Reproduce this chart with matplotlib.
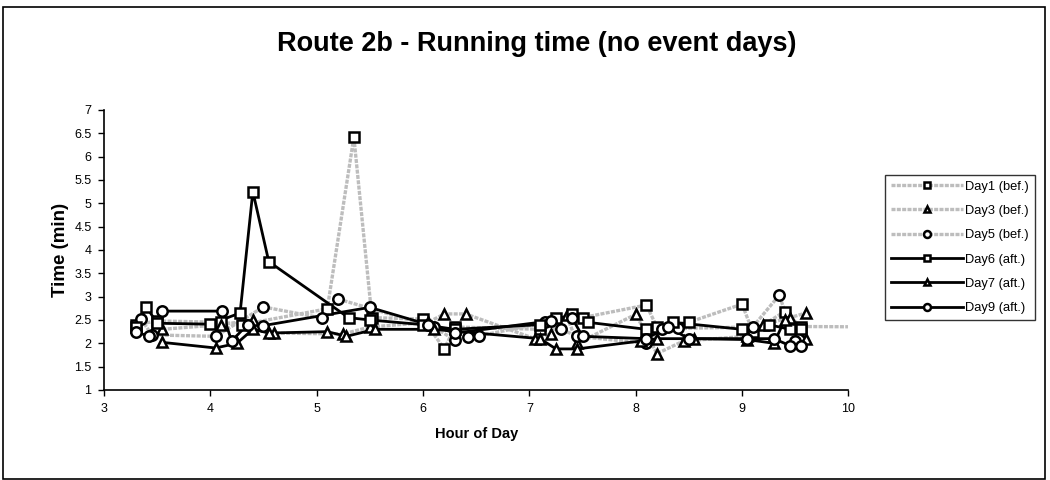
import matplotlib
matplotlib.use("Agg")
import matplotlib.pyplot as plt
from matplotlib.lines import Line2D
from matplotlib.patches import Rectangle
from matplotlib.ticker import MultipleLocator, FuncFormatter

plt.rcParams['font.family'] = ['Liberation Sans', 'DejaVu Sans']

# Hour of day / running time (min) for each day
day1_x = [3.30, 3.50, 4.10, 4.30, 5.10, 5.35, 5.52, 6.00, 6.20, 6.30, 7.10, 7.25, 7.50,
          8.10, 8.20, 8.50, 9.00, 9.10, 9.40, 9.55, 10.40]
day1_y = [2.40, 2.48, 2.45, 2.40, 2.74, 6.42, 2.55, 2.52, 1.88, 2.35, 2.30, 2.55, 2.55,
          2.82, 2.35, 2.45, 2.84, 2.25, 2.68, 2.36, 2.35]

day3_x = [3.55, 4.10, 4.40, 4.60, 5.25, 5.50, 6.05, 6.20, 6.40, 7.05, 7.20, 7.35, 7.45,
          8.00, 8.20, 8.45, 9.05, 9.20, 9.45, 9.60]
day3_y = [2.30, 2.40, 2.50, 2.22, 2.20, 2.35, 2.45, 2.63, 2.63, 2.10, 2.20, 2.60, 2.00,
          2.62, 1.78, 2.05, 2.15, 2.40, 2.55, 2.65]

day5_x = [3.35, 3.45, 4.05, 4.50, 5.05, 5.20, 6.10, 6.30, 6.42, 6.53, 7.15, 7.30, 7.45,
          8.10, 8.25, 8.40, 9.10, 9.35, 9.50]
day5_y = [2.52, 2.18, 2.15, 2.78, 2.54, 2.95, 2.35, 2.07, 2.13, 2.16, 2.45, 2.30, 2.15,
          2.00, 2.30, 2.32, 2.35, 3.03, 2.05]

day6_x = [3.30, 3.40, 3.50, 4.00, 4.28, 4.40, 4.55, 5.30, 5.50, 6.00, 6.30, 7.10, 7.40,
          7.55, 8.10, 8.35, 9.00, 9.25, 9.45, 9.55]
day6_y = [2.35, 2.78, 2.43, 2.41, 2.65, 5.25, 3.75, 2.55, 2.50, 2.40, 2.30, 2.40, 2.62,
          2.45, 2.30, 2.45, 2.30, 2.40, 2.30, 2.30]

day7_x = [3.55, 4.05, 4.25, 4.40, 4.55, 5.10, 5.28, 5.55, 6.10, 7.10, 7.25, 7.45, 8.05,
          8.20, 8.55, 9.05, 9.30, 9.40, 9.60]
day7_y = [2.02, 1.90, 2.00, 2.30, 2.22, 2.25, 2.15, 2.30, 2.30, 2.10, 1.88, 1.88, 2.05,
          2.10, 2.10, 2.08, 2.00, 2.50, 2.10]

day9_x = [3.30, 3.42, 3.55, 4.11, 4.20, 4.35, 4.50, 5.50, 6.05, 6.30, 7.20, 7.40, 7.50,
          8.10, 8.30, 8.50, 9.05, 9.30, 9.45, 9.55]
day9_y = [2.25, 2.15, 2.69, 2.69, 2.05, 2.40, 2.38, 2.77, 2.40, 2.22, 2.48, 2.55, 2.15,
          2.10, 2.35, 2.10, 2.10, 2.10, 1.95, 1.95]

series = [
    ("Day1 (bef.)", day1_x, day1_y, "s", "before"),
    ("Day3 (bef.)", day3_x, day3_y, "^", "before"),
    ("Day5 (bef.)", day5_x, day5_y, "o", "before"),
    ("Day6 (aft.)", day6_x, day6_y, "s", "after"),
    ("Day7 (aft.)", day7_x, day7_y, "^", "after"),
    ("Day9 (aft.)", day9_x, day9_y, "o", "after"),
]

GRAY = "#bdbdbd"
line_style = {
    "before": dict(color=GRAY, lw=2.4, ls=(0, (1.2, 0.4))),
    "after": dict(color="black", lw=2.0, ls="-"),
}

fig = plt.figure(figsize=(10.5, 4.8), dpi=100)
ax = fig.add_axes([0.099, 0.1875, 0.709, 0.5835])

handles = []
for name, xs, ys, mk, kind in series:
    st = line_style[kind]
    ax.plot(xs, ys, color=st["color"], lw=st["lw"], ls=st["ls"], zorder=2)
    ax.plot(xs, ys, ls="none", marker=mk, ms=7.5, mfc="white", mec="black",
            mew=1.8, zorder=3)
    handles.append(Line2D([], [], color=st["color"], lw=st["lw"], ls=st["ls"],
                          marker=mk, ms=5, mfc="white", mec="black", mew=1.8,
                          label=name))

ax.set_xlim(3, 10)
ax.set_ylim(1, 7)
ax.xaxis.set_major_locator(MultipleLocator(1))
ax.yaxis.set_major_locator(MultipleLocator(0.5))
ax.yaxis.set_major_formatter(FuncFormatter(lambda v, p: f"{v:g}"))
for side in ("top", "right"):
    ax.spines[side].set_visible(False)
for side in ("left", "bottom"):
    ax.spines[side].set_linewidth(1.2)
ax.tick_params(direction="out", length=4, width=1, labelsize=9, pad=5)

ax.set_xlabel("Hour of Day", fontsize=10.5, fontweight="bold", labelpad=9)
ax.set_ylabel("Time (min)", fontsize=13.5, fontweight="bold", labelpad=4)
fig.text(0.511, 0.908, "Route 2b - Running time (no event days)", ha="center",
         va="center", fontsize=19.5, fontweight="bold")

leg = fig.legend(handles=handles, loc="upper left", bbox_to_anchor=(0.843, 0.636),
                 fontsize=9.3, frameon=True, fancybox=False, edgecolor="black",
                 handlelength=5.6, handletextpad=0.15, labelspacing=0.95,
                 borderpad=0.45, borderaxespad=0)
leg.get_frame().set_linewidth(1.0)

fig.add_artist(Rectangle((3 / 1050, 1 / 480), 1042 / 1050, 472 / 480,
                         transform=fig.transFigure, fill=False, ec="black", lw=1.2))

fig.savefig("out.png", dpi=100)
